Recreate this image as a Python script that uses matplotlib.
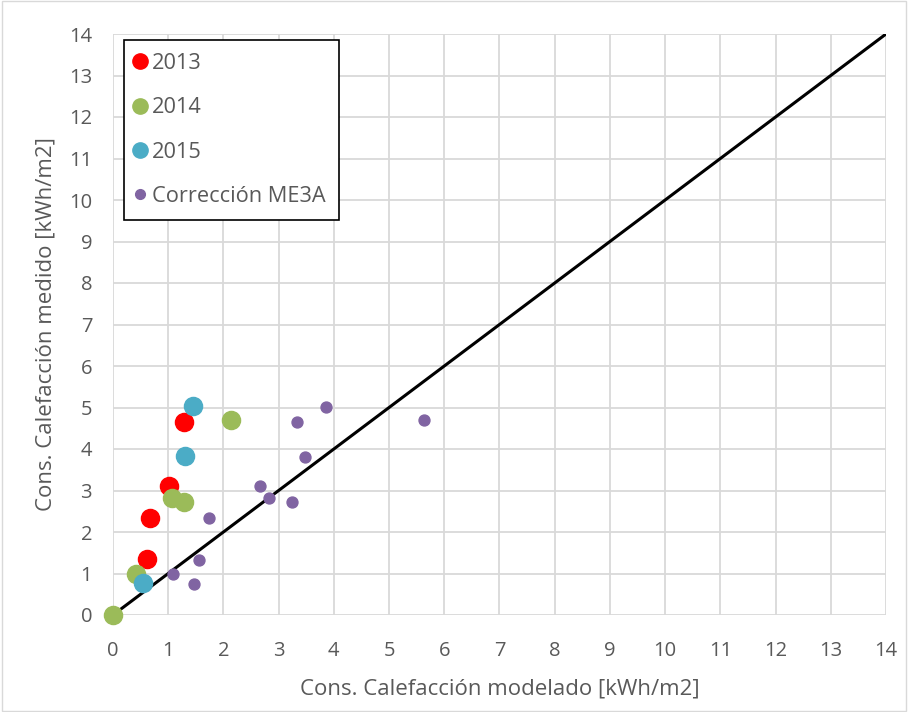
import matplotlib
matplotlib.use("Agg")
import matplotlib.pyplot as plt
from matplotlib.lines import Line2D
from matplotlib.patches import Rectangle

x2013 = [0.62, 0.67, 1.02, 1.29]
y2013 = [1.34, 2.34, 3.11, 4.66]
x2014 = [0.0, 0.41, 1.07, 1.28, 2.14]
y2014 = [0.0, 1.00, 2.82, 2.72, 4.70]
x2015 = [0.54, 1.30, 1.45]
y2015 = [0.76, 3.83, 5.04]
xcorr = [1.08, 1.47, 1.55, 1.73, 2.66, 2.83, 3.24, 3.48, 3.33, 3.85, 5.64]
ycorr = [0.99, 0.75, 1.33, 2.34, 3.11, 2.81, 2.72, 3.81, 4.66, 5.02, 4.70]
ticks = list(range(0, 15))

plt.rcParams['font.family'] = ['Open Sans', 'DejaVu Sans']
txt = '#595959'

fig = plt.figure(figsize=(9.08, 7.12), dpi=100)
ax = fig.add_axes([113/908, 1-615/712, (886-113)/908, (615-34)/712])
fig.patches.append(Rectangle((0.002, 0.002), 0.996, 0.996, transform=fig.transFigure,
                             fill=False, edgecolor='#d9d9d9', linewidth=1))

ax.set_xlim(0, 14)
ax.set_ylim(0, 14)
ax.set_xticks(ticks)
ax.set_yticks(ticks)
ax.grid(True, color='#d9d9d9', linewidth=1.3)
ax.set_axisbelow(True)
for s in ax.spines.values():
    s.set_visible(False)
ax.tick_params(length=0, labelsize=14.5, colors=txt)
ax.tick_params(axis='x', pad=19)
ax.tick_params(axis='y', pad=15)

ax.plot([0, 14], [0, 14], color='black', linewidth=2.2, zorder=2)
ax.scatter(x2013, y2013, s=170, color='#FF0000', zorder=3, clip_on=False, label='2013')
ax.scatter(x2014, y2014, s=170, color='#9BBB59', zorder=4, clip_on=False, label='2014')
ax.scatter(x2015, y2015, s=170, color='#4BACC6', zorder=5, clip_on=False, label='2015')
ax.scatter(xcorr, ycorr, s=62, color='#8064A2', zorder=6, clip_on=False, label='Corrección ME3A')

ax.set_xlabel('Cons. Calefacción modelado [kWh/m2]', fontsize=16, color=txt, labelpad=12)
ax.set_ylabel('Cons. Calefacción medido [kWh/m2]', fontsize=16, color=txt, labelpad=9)

handles = [
    Line2D([], [], marker='o', linestyle='', markersize=11, color='#FF0000'),
    Line2D([], [], marker='o', linestyle='', markersize=11, color='#9BBB59'),
    Line2D([], [], marker='o', linestyle='', markersize=11, color='#4BACC6'),
    Line2D([], [], marker='o', linestyle='', markersize=7, color='#8064A2'),
]
leg = ax.legend(handles, ['2013', '2014', '2015', 'Corrección ME3A'],
                loc='upper left', bbox_to_anchor=(11/773, 1-6/581), fontsize=15.7,
                frameon=True, fancybox=False, edgecolor='black', framealpha=1,
                labelspacing=1.07, handletextpad=0.4, borderpad=0.6, handlelength=0.3,
                borderaxespad=0)
leg.get_frame().set_linewidth(1.2)
for t in leg.get_texts():
    t.set_color(txt)

fig.savefig('out.png', dpi=100)
